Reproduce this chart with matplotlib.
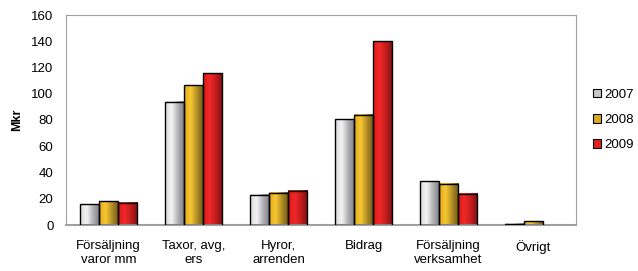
import numpy as np
import matplotlib
matplotlib.use("Agg")
import matplotlib.pyplot as plt
from matplotlib.colors import LinearSegmentedColormap
from matplotlib.patches import Rectangle

categories = ["Försäljning\nvaror mm", "Taxor, avg,\ners", "Hyror,\narrenden",
              "Bidrag", "Försäljning\nverksamhet", "Övrigt"]
years = ["2007", "2008", "2009"]
v2007 = [16, 94, 23, 80.5, 33.5, 1]
v2008 = [18, 106.5, 24.5, 84, 31.5, 3]
v2009 = [17, 115.5, 26, 140, 24, 0]

gradients = [
    ["#d8d8da", "#f4f4f4", "#b0b0b4", "#7c7c84"],
    ["#e0a818", "#f8c832", "#b08c24", "#66561c"],
    ["#e01818", "#f02828", "#c01c1c", "#7a1010"],
]
solid = ["#c8c8cc", "#d8aa20", "#e02020"]

plt.rcParams["font.family"] = ["Liberation Sans", "DejaVu Sans"]

fig = plt.figure(figsize=(6.38, 2.71), dpi=100)
ax = fig.add_axes([66 / 638, 1 - 225 / 271, 510 / 638, 210 / 271])

x = np.arange(len(categories))
w = 0.225
grad = np.linspace(0, 1, 64).reshape(1, -1)
for i, vals in enumerate([v2007, v2008, v2009]):
    cmap = LinearSegmentedColormap.from_list("g%d" % i, gradients[i])
    for xc, v in zip(x + (i - 1) * w, vals):
        if v <= 0:
            continue
        ax.imshow(grad, cmap=cmap, aspect="auto", interpolation="bicubic",
                  extent=(xc - w / 2, xc + w / 2, 0, v), zorder=2)
        ax.add_patch(Rectangle((xc - w / 2, 0), w, v, fill=False,
                               edgecolor="black", linewidth=1.0, zorder=3))

ax.set_xlim(-0.5, len(categories) - 0.5)
ax.set_ylim(0, 160)
ax.set_yticks(range(0, 161, 20))
ax.set_xticks(x)
ax.set_xticklabels(categories, fontsize=9.5, va="top", linespacing=1.15)
ax.tick_params(axis="x", length=0, pad=11)
ax.tick_params(axis="y", labelsize=9.5, length=0, pad=9)
for s in ax.spines.values():
    s.set_color("#a0a0a0")
ax.spines["bottom"].set_linewidth(1.5)
ax.set_ylabel("Mkr", fontsize=9, fontweight="bold", labelpad=6)

handles = [Rectangle((0, 0), 1, 1, facecolor=c, edgecolor="black", linewidth=0.8)
           for c in solid]
fig.legend(handles, years, loc="center left", bbox_to_anchor=(586 / 638, 1 - 120 / 271),
           frameon=False, fontsize=9.5, handlelength=0.6, handleheight=0.6,
           handletextpad=0.3, labelspacing=1.0, borderpad=0)

fig.savefig("out.png", dpi=100)
